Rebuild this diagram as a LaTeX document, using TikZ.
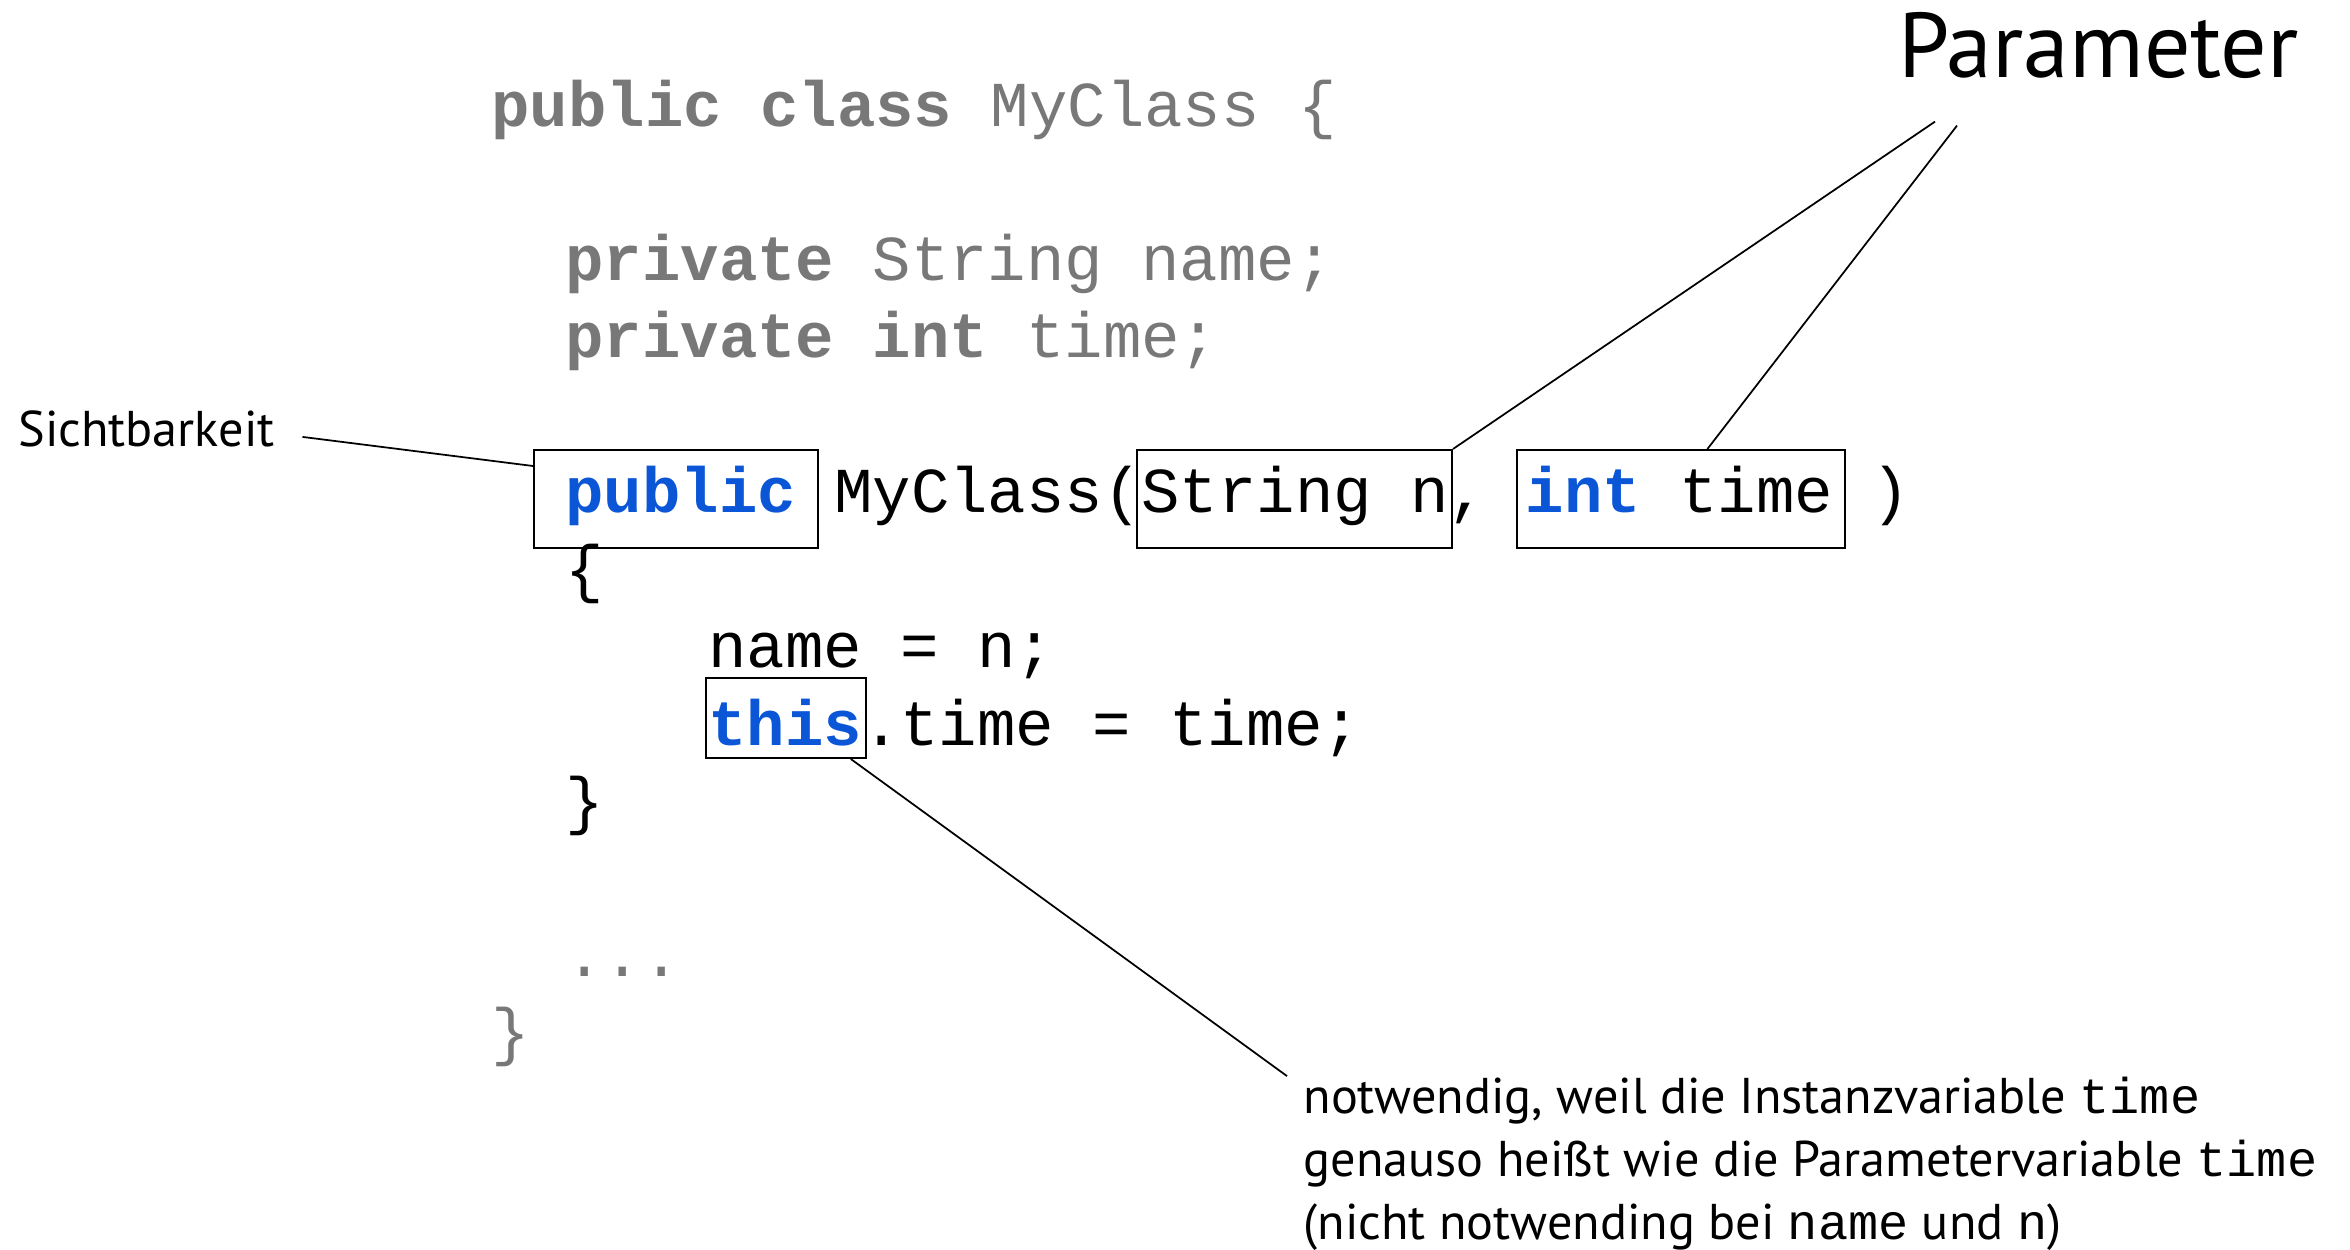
\documentclass[tikz,border=0pt]{standalone}
\usepackage{fontspec}
\setmainfont{PT Sans}
\setmonofont{Liberation Mono}
\usetikzlibrary{calc}
\definecolor{codegray}{HTML}{787878}
\definecolor{kwblue}{HTML}{0A56D6}
\begin{document}
\begin{tikzpicture}[x=0.4pt,y=-0.4pt,
  code/.style={anchor=base west, inner sep=0pt, font=\ttfamily\fontsize{25.6}{30}\selectfont},
  graycode/.style={code, text=codegray},
  lbl/.style={anchor=base west, inner sep=0pt, font=\fontsize{20.1}{24}\selectfont},
  hbox/.style={draw, line width=0.8pt, inner sep=0pt, minimum height=39.2pt},
  conn/.style={line width=0.7pt}]
\useasboundingbox (0,0) rectangle (2350,1250);
% code lines
\node[graycode] (l0) at (491,127) {\textbf{public class} MyClass \{};
\node[graycode] (l2) at (565,281) {\textbf{private} String name;};
\node[graycode] (l3) at (565,358) {\textbf{private int} time;};
\node[code] (l5) at (565,513) {\textcolor{kwblue}{\textbf{public}} MyClass(String n, \textcolor{kwblue}{\textbf{int}} time )};
\node[code] (l6) at (565,590) {\{};
\node[code] (l7) at (708,667) {name = n;};
\node[code] (l8) at (708,745) {\textcolor{kwblue}{\textbf{this}}.time = time;};
\node[code] (l9) at (565,822) {\}};
\node[graycode] (l11) at (565,976) {...};
\node[graycode] (l12) at (491,1053) {\}};
% boxes
\node[hbox, minimum width=113.6pt] (boxpub) at (676,499) {};
\node[hbox, minimum width=126pt] (boxstr) at (1294.5,499) {};
\node[hbox, minimum width=131.2pt] (boxint) at (1681,499) {};
\node[hbox, minimum width=64pt, minimum height=32pt] (boxthis) at (786,718) {};
% labels
\node[anchor=base west, inner sep=0pt, font=\fontsize{36.8}{40}\selectfont] (param) at (1898,78) {Parameter};
\node[lbl] (sicht) at (18,447) {Sichtbarkeit};
\node[lbl] (note1) at (1303,1113) {notwendig, weil die Instanzvariable \texttt{time}};
\node[lbl] (note2) at (1303,1176) {genauso heißt wie die Parametervariable \texttt{time}};
\node[lbl] (note3) at (1303,1239) {(nicht notwending bei \texttt{name} und \texttt{n})};
% connectors
\draw[conn] ([xshift=11pt,yshift=-3pt]sicht.east) -- ($(boxpub.north west)!0.17!(boxpub.south west)$);
\draw[conn] ([xshift=14.8pt,yshift=-16.8pt]param.south west) -- (boxstr.north east);
\draw[conn] ([xshift=23.6pt,yshift=-18.4pt]param.south west) -- ($(boxint.north west)!0.58!(boxint.north east)$);
\draw[conn] ($(boxthis.south west)!0.9!(boxthis.south east)$) -- ([xshift=-6.4pt]note1.north west);
\end{tikzpicture}
\end{document}
